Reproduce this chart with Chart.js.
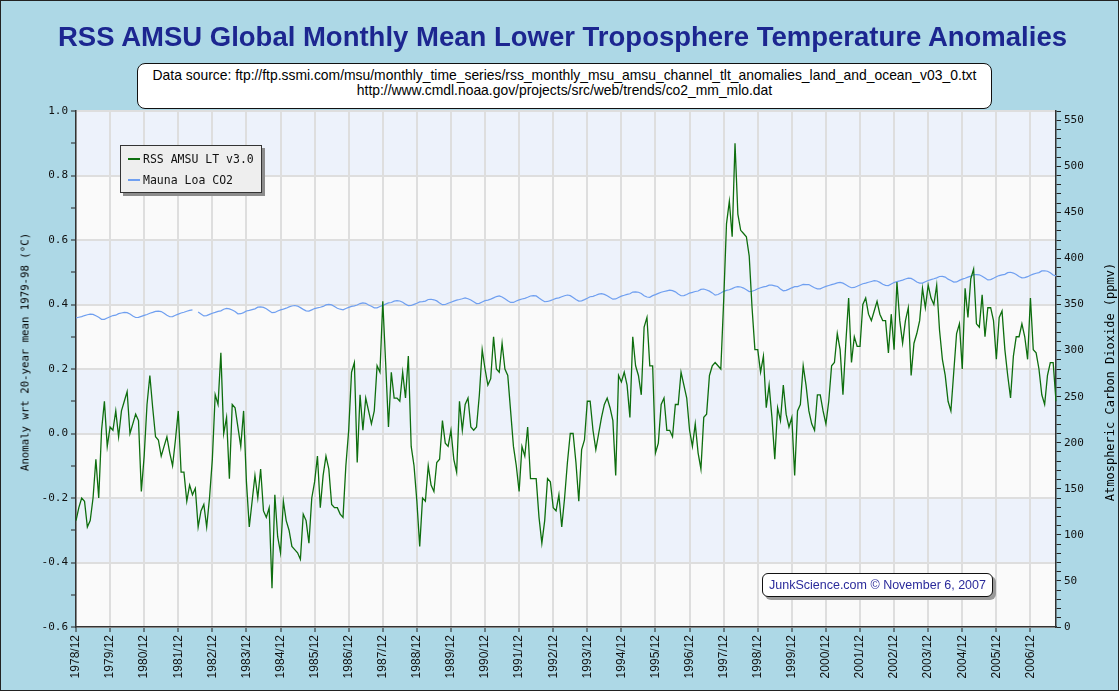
<!DOCTYPE html>
<html>
<head>
<meta charset="utf-8">
<title>RSS AMSU Global Monthly Mean Lower Troposphere Temperature Anomalies</title>
<script src="https://cdn.jsdelivr.net/npm/chart.js@4.4.0/dist/chart.umd.min.js"></script>
<style>
  html, body { margin: 0; padding: 0; }
  body {
    width: 1119px; height: 691px; position: relative; overflow: hidden;
    background: #add8e6; font-family: "Liberation Sans", Arial, sans-serif;
  }
  #frame { position: absolute; left: 0; top: 0; width: 1117px; height: 689px; border: 1px solid #222; pointer-events: none; }
  #chart { position: absolute; left: 0; top: 0; }
  .title {
    position: absolute; left: 0; top: 21px; width: 1125px; text-align: center;
    font-weight: bold; font-size: 27.5px; color: #1c2690; white-space: nowrap;
  }
  .source {
    position: absolute; left: 137px; top: 63px; width: 853px; height: 40px;
    background: #fff; border: 1.5px solid #111; border-radius: 8px;
    text-align: center; font-size: 13.9px; line-height: 15px; padding-top: 4px; color: #000;
    white-space: nowrap;
  }
  .note {
    position: absolute; left: 762px; top: 573px; width: 229px; height: 22px;
    background: #fff; border: 1.5px solid #111; border-radius: 6px; box-shadow: 3px 3px 0 #9a9a9a;
    text-align: center; font-size: 12.5px; line-height: 22px; color: #2b2b9b;
  }
  .legend {
    position: absolute; left: 120px; top: 145px; width: 140px; height: 46px;
    background: #eeeeee; border: 1px solid #333; box-shadow: 3px 3px 0 #8c8c8c;
    font-family: "DejaVu Sans Mono", monospace; font-size: 11.5px; color: #111;
  }
  .legend div { position: absolute; left: 7px; height: 14px; line-height: 14px; white-space: nowrap; }
  .legend span { display: inline-block; width: 12px; height: 2px; vertical-align: middle; margin-right: 3px; position: relative; top: -1px; }
  .axis-title {
    position: absolute; font-family: "DejaVu Sans Mono", monospace; color: #000;
    white-space: nowrap; transform: translate(-50%, -50%) rotate(-90deg);
  }
</style>
</head>
<body>
<canvas id="chart" width="1119" height="691"></canvas>
<div class="title">RSS AMSU Global Monthly Mean Lower Troposphere Temperature Anomalies</div>
<div class="source">Data source: ftp://ftp.ssmi.com/msu/monthly_time_series/rss_monthly_msu_amsu_channel_tlt_anomalies_land_and_ocean_v03_0.txt<br>http://www.cmdl.noaa.gov/projects/src/web/trends/co2_mm_mlo.dat</div>
<div class="legend" id="legend"></div>
<div class="note">JunkScience.com © November 6, 2007</div>
<div class="axis-title" style="left:25px; top:352px; font-size:10.7px;">Anomaly wrt 20-year mean 1979-98 (°C)</div>
<div class="axis-title" style="left:1110px; top:382px; font-size:12px;">Atmospheric Carbon Dioxide (ppmv)</div>
<div id="frame"></div>

<script>
  /* --- DATA --- */

  // first month on the axis: 1978/12, monthly to 2007/09
  const startYear  = 1978;
  const startMonth = 12;

  // RSS AMSU LT v3.0 anomaly (°C)
  const tltAnomaly = [
    -0.27,                                                                          // 1978/12
    -0.23, -0.20, -0.21, -0.29, -0.27, -0.20, -0.08, -0.20,  0.01,  0.10, -0.04,  0.02, // 1979
     0.01,  0.07, -0.01,  0.07,  0.10,  0.13,  0.00,  0.03,  0.06,  0.04, -0.18, -0.07, // 1980
     0.09,  0.18,  0.08, -0.01, -0.02, -0.07, -0.04, -0.01, -0.06, -0.10, -0.02,  0.07, // 1981
    -0.12, -0.12, -0.21, -0.16, -0.19, -0.17, -0.29, -0.24, -0.22, -0.29, -0.20, -0.08, // 1982
     0.12,  0.09,  0.25,  0.00,  0.05, -0.14,  0.09,  0.08,  0.02, -0.04,  0.07, -0.15, // 1983
    -0.29, -0.21, -0.13, -0.20, -0.11, -0.24, -0.26, -0.23, -0.48, -0.19, -0.32, -0.37, // 1984
    -0.21, -0.27, -0.30, -0.35, -0.36, -0.37, -0.39, -0.25, -0.27, -0.34, -0.20, -0.15, // 1985
    -0.07, -0.23, -0.13, -0.07, -0.11, -0.22, -0.23, -0.23, -0.25, -0.26, -0.10,  0.01, // 1986
     0.19,  0.22, -0.09,  0.12,  0.01,  0.11,  0.07,  0.03,  0.07,  0.21,  0.19,  0.41, // 1987
     0.22,  0.02,  0.19,  0.11,  0.11,  0.10,  0.19,  0.11,  0.24, -0.04, -0.10, -0.21, // 1988
    -0.35, -0.20, -0.21, -0.10, -0.16, -0.18, -0.09, -0.08,  0.04, -0.03, -0.04,  0.01, // 1989
    -0.08, -0.12,  0.10,  0.01,  0.09,  0.11,  0.02,  0.01,  0.02,  0.12,  0.26,  0.20, // 1990
     0.15,  0.17,  0.30,  0.20,  0.19,  0.28,  0.20,  0.18,  0.07, -0.04, -0.10, -0.18, // 1991
    -0.04, -0.07,  0.02, -0.14, -0.14, -0.14, -0.26, -0.34, -0.27, -0.14, -0.15, -0.23, // 1992
    -0.24, -0.19, -0.29, -0.20, -0.09,  0.00,  0.00, -0.09, -0.21, -0.05, -0.02,  0.10, // 1993
     0.10,  0.01, -0.05,  0.00,  0.05,  0.09,  0.11,  0.08,  0.04, -0.13,  0.18,  0.16, // 1994
     0.19,  0.15,  0.05,  0.30,  0.21,  0.18,  0.12,  0.33,  0.36,  0.21,  0.21, -0.06, // 1995
    -0.03,  0.09,  0.11,  0.01,  0.01, -0.01,  0.09,  0.09,  0.19,  0.15,  0.11,  0.01, // 1996
    -0.04,  0.03, -0.06, -0.11,  0.05,  0.06,  0.18,  0.21,  0.22,  0.21,  0.20,  0.41, // 1997
     0.65,  0.72,  0.61,  0.90,  0.68,  0.63,  0.62,  0.61,  0.55,  0.39,  0.26,  0.26, // 1998
     0.19,  0.24,  0.08,  0.15,  0.05, -0.08,  0.08,  0.04,  0.15,  0.06,  0.02,  0.05, // 1999
    -0.13,  0.07,  0.09,  0.21,  0.15,  0.07,  0.03,  0.01,  0.12,  0.12,  0.07,  0.03, // 2000
     0.10,  0.21,  0.22,  0.31,  0.26,  0.12,  0.28,  0.42,  0.22,  0.30,  0.27,  0.27, // 2001
     0.40,  0.42,  0.37,  0.35,  0.38,  0.41,  0.37,  0.35,  0.35,  0.25,  0.37,  0.26, // 2002
     0.47,  0.35,  0.28,  0.35,  0.39,  0.18,  0.28,  0.31,  0.35,  0.45,  0.39,  0.46, // 2003
     0.42,  0.40,  0.46,  0.32,  0.23,  0.18,  0.10,  0.07,  0.19,  0.31,  0.34,  0.20, // 2004
     0.45,  0.36,  0.48,  0.51,  0.34,  0.33,  0.43,  0.30,  0.39,  0.39,  0.35,  0.23, // 2005
     0.36,  0.38,  0.26,  0.18,  0.11,  0.24,  0.30,  0.30,  0.34,  0.30,  0.23,  0.42, // 2006
     0.26,  0.25,  0.20,  0.12,  0.09,  0.18,  0.22,  0.22,  0.10                       // 2007
  ];

  // Mauna Loa CO2 (ppmv); one month missing in 1982
  const co2Ppm = [
    335.5,                                                                                  // 1978/12
    336.2, 336.8, 338.0, 338.9, 339.5, 339.3, 337.7, 336.1, 333.9, 333.9, 335.3, 336.7, // 1979
    338.0, 338.4, 340.1, 340.8, 341.5, 341.2, 339.6, 337.6, 335.9, 336.0, 337.1, 338.2, // 1980
    339.2, 340.5, 341.4, 342.5, 342.9, 342.3, 340.5, 338.4, 336.7, 336.9, 338.4, 339.6, // 1981
    340.8, 341.6, 342.7, 343.6, 344.1, null,  341.9, 339.8, 337.6, 337.9, 339.3, 340.5, // 1982
    341.4, 342.5, 343.1, 344.9, 345.8, 345.3, 344.0, 342.4, 339.9, 340.0, 341.2, 343.0, // 1983
    343.7, 344.5, 345.3, 347.1, 347.4, 346.8, 345.4, 343.3, 341.1, 341.4, 343.0, 344.2, // 1984
    345.0, 346.0, 347.4, 348.4, 348.9, 348.3, 346.6, 344.7, 343.1, 342.8, 344.2, 345.6, // 1985
    346.3, 347.0, 347.9, 349.6, 350.2, 349.6, 347.9, 345.9, 344.9, 344.2, 345.7, 346.9, // 1986
    348.0, 348.5, 349.4, 351.0, 351.8, 351.3, 349.5, 348.1, 346.4, 346.4, 347.8, 349.0, // 1987
    350.4, 351.7, 352.2, 353.6, 354.2, 353.8, 352.4, 350.4, 348.7, 348.9, 350.1, 351.3, // 1988
    352.8, 353.1, 353.7, 355.4, 355.7, 355.1, 353.9, 351.7, 349.8, 350.0, 351.3, 352.5, // 1989
    353.7, 354.7, 355.4, 356.2, 357.2, 356.2, 354.8, 352.9, 351.0, 351.2, 352.8, 354.2, // 1990
    354.7, 355.8, 357.2, 358.6, 359.3, 358.2, 356.2, 354.0, 352.2, 352.2, 353.8, 355.0, // 1991
    356.0, 356.7, 357.8, 359.2, 359.7, 359.3, 357.0, 355.0, 353.0, 353.3, 354.2, 355.4, // 1992
    356.7, 357.2, 358.4, 359.5, 360.3, 359.6, 357.6, 355.5, 353.7, 354.0, 355.3, 356.8, // 1993
    358.4, 358.9, 360.0, 361.3, 361.7, 361.0, 359.6, 357.5, 355.8, 356.0, 357.6, 359.1, // 1994
    360.0, 361.0, 361.7, 363.5, 363.8, 363.3, 361.9, 359.5, 358.1, 357.8, 359.6, 360.7, // 1995
    362.1, 363.3, 364.1, 364.8, 365.5, 365.0, 363.7, 361.5, 359.5, 359.7, 360.8, 362.4, // 1996
    363.2, 364.1, 364.6, 366.4, 366.8, 365.7, 364.5, 362.6, 360.2, 360.8, 362.5, 364.3, // 1997
    365.3, 366.0, 367.2, 368.7, 369.4, 369.0, 367.8, 366.0, 364.0, 364.4, 365.5, 367.1, // 1998
    368.2, 369.1, 369.7, 371.0, 371.0, 370.3, 369.5, 366.9, 364.8, 365.4, 366.7, 368.1, // 1999
    369.3, 369.5, 370.6, 371.8, 371.6, 371.7, 369.9, 368.1, 367.0, 367.0, 368.4, 369.7, // 2000
    370.6, 371.5, 372.4, 373.4, 373.9, 373.2, 371.5, 369.6, 368.2, 368.5, 369.8, 371.2, // 2001
    372.5, 373.2, 374.1, 375.0, 375.8, 375.5, 374.0, 371.9, 370.8, 370.6, 372.3, 373.8, // 2002
    374.9, 375.6, 376.5, 377.7, 378.6, 378.3, 376.7, 374.4, 373.2, 373.2, 374.7, 376.0, // 2003
    377.0, 377.9, 378.9, 380.4, 380.6, 379.7, 377.5, 376.0, 374.3, 374.5, 376.2, 377.5, // 2004
    378.5, 379.7, 380.8, 382.3, 382.5, 382.2, 380.7, 378.7, 376.7, 377.0, 378.4, 380.1, // 2005
    381.4, 382.2, 382.7, 384.6, 385.0, 384.1, 382.5, 380.4, 378.9, 379.1, 380.2, 381.8, // 2006
    382.9, 383.9, 384.6, 386.5, 386.6, 386.1, 384.5, 382.0, 381.0                        // 2007
  ];

  const seriesNames  = ['RSS AMSU LT v3.0', 'Mauna Loa CO2'];
  const seriesColors = ['#0e6e0e', '#6f9ff0'];

  /* --- helpers --- */

  const monthLabels = tltAnomaly.map((_, i) => {
    const t = startMonth - 1 + i;
    return (startYear + Math.floor(t / 12)) + '/' + String(t % 12 + 1).padStart(2, '0');
  });

  const isDecember = i => monthLabels[i] && monthLabels[i].endsWith('/12');
  const isMajorTenth = v => Math.round(v * 10) % 2 === 0;

  // alternating horizontal bands behind the grid
  const bandPlugin = {
    id: 'bands',
    beforeDraw(chart) {
      const { ctx, chartArea: a, scales: { y } } = chart;
      ctx.save();
      for (let k = 0; k < 8; k++) {
        const lo = -0.6 + 0.2 * k;
        const top = y.getPixelForValue(lo + 0.2);
        const bot = y.getPixelForValue(lo);
        ctx.fillStyle = k % 2 ? '#edf2fb' : '#fafafa';
        ctx.fillRect(a.left, top, a.right - a.left, bot - top);
      }
      ctx.restore();
    }
  };

  const tickFont = { family: 'DejaVu Sans Mono', size: 11 };

  const chart = new Chart(document.getElementById('chart'), {
    type: 'line',
    data: {
      labels: monthLabels,
      datasets: [
        {
          label: seriesNames[0], data: tltAnomaly, yAxisID: 'y',
          borderColor: seriesColors[0], borderWidth: 1.3,
          pointRadius: 0, tension: 0
        },
        {
          label: seriesNames[1], data: co2Ppm, yAxisID: 'y2',
          borderColor: seriesColors[1], borderWidth: 1.2,
          pointRadius: 0, tension: 0, spanGaps: false
        }
      ]
    },
    options: {
      responsive: false,
      animation: false,
      layout: { padding: { top: 111, left: 0, right: 0, bottom: 0 } },
      plugins: { legend: { display: false }, tooltip: { enabled: false } },
      scales: {
        x: {
          type: 'category',
          offset: false,
          afterFit(s) { s.height = 64; },
          grid: {
            color: c => isDecember(c.index) ? '#dedede' : 'rgba(0,0,0,0)',
            tickColor: c => isDecember(c.index) ? '#222' : 'rgba(0,0,0,0)',
            lineWidth: 2, tickWidth: 1, tickLength: 5
          },
          border: { color: '#333', width: 1.5 },
          ticks: {
            autoSkip: false, minRotation: 90, maxRotation: 90, padding: 3,
            color: '#111', font: { family: 'Liberation Sans', size: 12 },
            callback(v, i) { return isDecember(i) ? monthLabels[i] : ''; }
          }
        },
        y: {
          position: 'left', min: -0.6, max: 1.0,
          afterFit(s) { s.width = 76; },
          grid: {
            color: c => (c.tick && isMajorTenth(c.tick.value)) ? '#dedede' : 'rgba(0,0,0,0)',
            tickColor: '#222', lineWidth: 2, tickWidth: 1, tickLength: 5
          },
          border: { color: '#333', width: 1.5 },
          ticks: {
            autoSkip: false, stepSize: 0.1, padding: 3, color: '#111', font: tickFont,
            callback: v => isMajorTenth(v) ? (Math.round(v * 10) / 10).toFixed(1) : ''
          }
        },
        y2: {
          position: 'right', min: 0, max: 560,
          afterFit(s) { s.width = 63; },
          grid: { drawOnChartArea: false, tickColor: '#222', tickLength: 5, tickWidth: 1 },
          border: { color: '#333', width: 1.5 },
          ticks: {
            autoSkip: false, stepSize: 10, padding: 3, color: '#111', font: tickFont,
            callback: v => v % 50 === 0 ? String(v) : ''
          }
        }
      }
    },
    plugins: [bandPlugin]
  });

  /* --- legend box, built from the datasets --- */
  const legendBox = document.getElementById('legend');
  chart.data.datasets.forEach((ds, i) => {
    const row = document.createElement('div');
    row.style.top = (6 + i * 21) + 'px';
    row.innerHTML = '<span style="background:' + ds.borderColor + '"></span>' + ds.label;
    legendBox.appendChild(row);
  });
</script>
</body>
</html>
